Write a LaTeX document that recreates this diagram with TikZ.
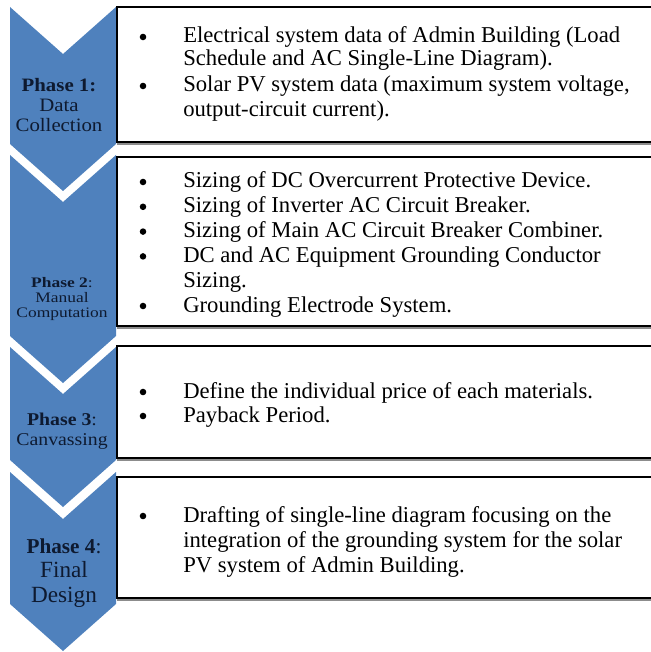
\documentclass[tikz,border=0pt]{standalone}
\usepackage{fontspec}
\setmainfont{Liberation Serif}
\newfontfamily\lblfontA[FakeStretch=1.1]{Liberation Serif}
\newfontfamily\lblfontB[FakeStretch=1.2]{Liberation Serif}
\newfontfamily\lblfontC[FakeStretch=1.1]{Liberation Serif}
\newfontfamily\lblfontD{Liberation Serif}
\definecolor{chev}{HTML}{4F81BD}
\definecolor{lbltext}{HTML}{0E1A30}
\begin{document}
\begin{tikzpicture}[x=0.75pt,y=-0.75pt,
  chevron/.style={fill=chev},
  box/.style={draw=black, line width=0.8pt},
  boxshadow/.style={draw=black!45, line width=1.3pt},
  bodytext/.style={font=\fontsize{17}{18}\selectfont, anchor=base west, inner sep=0pt, text=black},
  bulletmark/.style={circle, fill=black, inner sep=0pt, minimum size=4.9pt},
  phaselbl/.style={align=center, inner sep=0pt, text=lbltext}]
\useasboundingbox (0,0) rectangle (650,652);

% chevrons
\fill[chevron] (10,7)   -- (63,54)  -- (116,7)   -- (116,144) -- (63,191) -- (10,144) -- cycle;
\fill[chevron] (10,155) -- (63,202) -- (116,155) -- (116,336) -- (63,383) -- (10,336) -- cycle;
\fill[chevron] (10,347) -- (63,394) -- (116,347) -- (116,460) -- (63,507) -- (10,460) -- cycle;
\fill[chevron] (10,472) -- (63,519) -- (116,472) -- (116,604) -- (63,651) -- (10,604) -- cycle;

% boxes
\draw[boxshadow] (117,144) -- (660,144);
\draw[box] (117,7) rectangle (660,142);
\draw[boxshadow] (117,328) -- (660,328);
\draw[box] (117,157) rectangle (660,326);
\draw[boxshadow] (117,460) -- (660,460);
\draw[box] (117,346) rectangle (660,458);
\draw[boxshadow] (117,600) -- (660,600);
\draw[box] (117,477) rectangle (660,598);

% phase labels
\node[phaselbl, font=\lblfontA\fontsize{14.2}{15.2}\selectfont] (p1) at (59,105)
  {\textbf{Phase 1:}\\Data\\Collection};
\node[phaselbl, font=\lblfontB\fontsize{10.9}{11.2}\selectfont] (p2) at (62,299)
  {\textbf{Phase 2}:\\Manual\\Computation};
\node[phaselbl, font=\lblfontC\fontsize{13.5}{15}\selectfont] (p3) at (62,431)
  {\textbf{Phase 3}:\\Canvassing};
\node[phaselbl, font=\lblfontD\fontsize{17.4}{18.6}\selectfont] (p4) at (64,573)
  {{\fontsize{15.9}{18.6}\selectfont\textbf{Phase 4}:}\\Final\\Design};

% box 1
\node[bulletmark] (b1a) at (143,37) {};
\node[bodytext] (t1a) at (183,43) {Electrical system data of Admin Building (Load};
\node[bodytext] (t1b) at (183,66) {Schedule and AC Single-Line Diagram).};
\node[bulletmark] (b1b) at (143,86) {};
\node[bodytext] (t1c) at (183,92) {Solar PV system data (maximum system voltage,};
\node[bodytext] (t1d) at (183,117) {output-circuit current).};

% box 2
\node[bulletmark] (b2a) at (143,182) {};
\node[bodytext] (t2a) at (183,188) {Sizing of DC Overcurrent Protective Device.};
\node[bulletmark] (b2b) at (143,206.8) {};
\node[bodytext] (t2b) at (183,212.8) {Sizing of Inverter AC Circuit Breaker.};
\node[bulletmark] (b2c) at (143,231.6) {};
\node[bodytext] (t2c) at (183,237.6) {Sizing of Main AC Circuit Breaker Combiner.};
\node[bulletmark] (b2d) at (143,256.4) {};
\node[bodytext] (t2d) at (183,262.4) {DC and AC Equipment Grounding Conductor};
\node[bodytext] (t2e) at (183,287.2) {Sizing.};
\node[bulletmark] (b2e) at (143,306) {};
\node[bodytext] (t2f) at (183,312) {Grounding Electrode System.};

% box 3
\node[bulletmark] (b3a) at (143,392) {};
\node[bodytext] (t3a) at (183,398) {Define the individual price of each materials.};
\node[bulletmark] (b3b) at (143,416) {};
\node[bodytext] (t3b) at (183,422) {Payback Period.};

% box 4
\node[bulletmark] (b4a) at (143,516) {};
\node[bodytext] (t4a) at (183,522) {Drafting of single-line diagram focusing on the};
\node[bodytext] (t4b) at (183,547) {integration of the grounding system for the solar};
\node[bodytext] (t4c) at (183,572) {PV system of Admin Building.};
\end{tikzpicture}
\end{document}
